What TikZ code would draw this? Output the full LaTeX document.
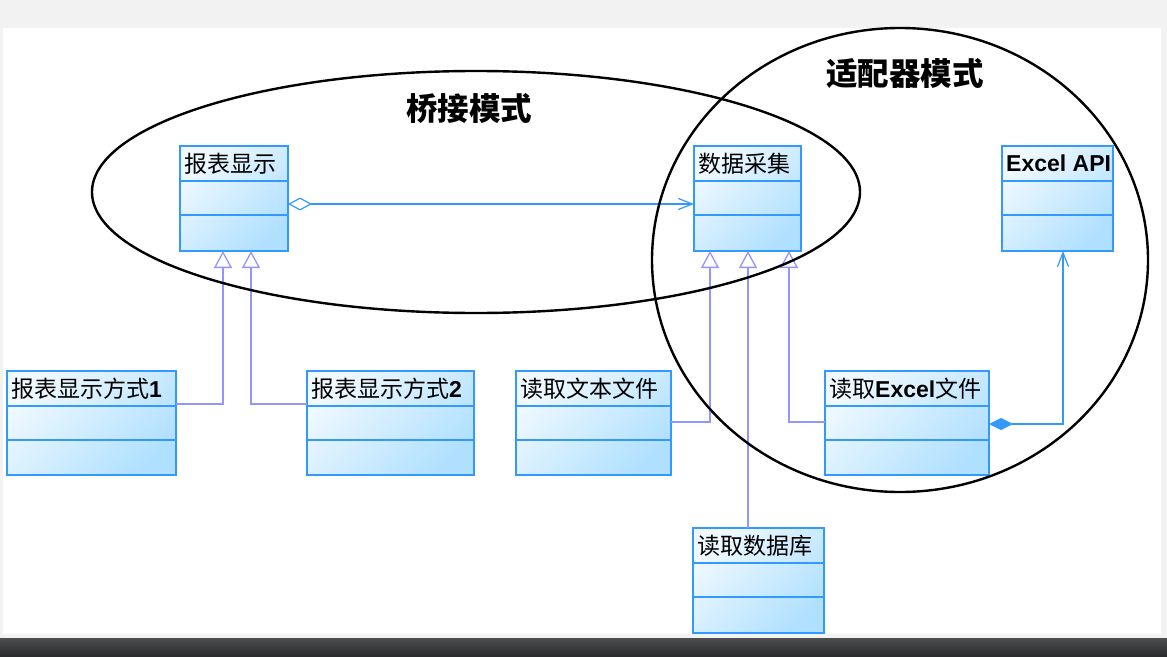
\documentclass[tikz,border=0pt]{standalone}
\usepackage{fontspec}
\setmainfont{Liberation Sans}
\newfontfamily\cjk{Noto Sans CJK SC}
\usepackage{tikz}
\usetikzlibrary{arrows.meta, calc}

\definecolor{umlblue}{HTML}{3399FF}
\definecolor{umllilac}{HTML}{9494FF}
\definecolor{boxlight}{HTML}{F0F9FF}
\definecolor{boxdark}{HTML}{B0E0FF}
\definecolor{pagegrey}{HTML}{F2F2F2}
\definecolor{bartop}{HTML}{4C4E50}
\definecolor{barbottom}{HTML}{2A2C2E}

% one class box: name, x, y, width, height, title
\newcommand{\umlbox}[6]{%
  \node[umlclass, minimum width=#4pt, minimum height=#5pt] (#1) at (#2,#3) {};
  \node[classtitle] (#1-title) at ($(#1.north west)+(4pt,-17.5pt)$) {#6};
  \draw[umlblue, line width=1.2pt] ($(#1.north west)+(0,-35pt)$) -- ($(#1.north east)+(0,-35pt)$);
  \draw[umlblue, line width=1.2pt] ($(#1.north west)+(0,-69pt)$) -- ($(#1.north east)+(0,-69pt)$);
}

\begin{document}
\begin{tikzpicture}[x=1pt, y=-1pt,
    umlclass/.style={draw=umlblue, line width=1.2pt, anchor=north west, inner sep=0pt, outer sep=0pt,
      top color=boxlight, bottom color=boxdark, shading angle=45},
    classtitle/.style={anchor=west, inner sep=0pt, font=\cjk\fontsize{23}{26}\selectfont},
    patterntitle/.style={inner sep=0pt, font=\cjk\bfseries\fontsize{31.5}{34}\selectfont},
    assoc/.style={umlblue, line width=1.2pt},
    inherit/.style={umllilac, line width=1.3pt, -{Triangle[length=17pt, width=18pt, fill=white]}}]
        % Page background
        \useasboundingbox (0,0) rectangle (1167,656);
        \fill[pagegrey] (0,0) rectangle (1167,656);
        \fill[white] (3,28) rectangle (1161,634);
        \shade[top color=bartop, bottom color=barbottom] (0,638) rectangle (1167,656);

        % Classes
        \umlbox{show}{180}{146}{108}{105}{报表显示}
        \umlbox{collect}{694}{146}{107}{105}{数据采集}
        \umlbox{api}{1002}{146}{111}{105}{{\rmfamily\bfseries Excel API}}
        \umlbox{way1}{7}{371}{169}{104}{报表显示方式{\rmfamily\bfseries 1}}
        \umlbox{way2}{307}{371}{167}{104}{报表显示方式{\rmfamily\bfseries 2}}
        \umlbox{txt}{516}{371}{155}{104}{读取文本文件}
        \umlbox{xls}{825}{371}{164}{104}{读取{\rmfamily\bfseries Excel}文件}
        \umlbox{db}{693}{528}{131}{105}{读取数据库}

        % Connectors
        \draw[assoc, {Diamond[length=24pt, width=13pt, fill=white]}-{Straight Barb[length=14pt, width=11pt]}]
            ($(show.north east)+(0,-58pt)$) -- ($(collect.north west)+(0,-58pt)$);
        \draw[inherit] ($(way1.north east)+(0,-33pt)$) -| ($(show.south west)+(43pt,0)$);
        \draw[inherit] ($(way2.north west)+(0,-33pt)$) -| ($(show.south west)+(71pt,0)$);
        \draw[inherit] ($(txt.north east)+(0,-51pt)$) -| ($(collect.south west)+(16pt,0)$);
        \draw[inherit] ($(db.north west)+(55pt,0)$) -- ($(collect.south west)+(54pt,0)$);
        \draw[inherit] ($(xls.north west)+(0,-51pt)$) -| ($(collect.south west)+(95pt,0)$);
        \draw[assoc, {Diamond[length=24pt, width=12pt]}-{Straight Barb[length=14pt, width=11pt]}]
            ($(xls.north east)+(0,-53pt)$) -| ($(api.south west)+(61pt,0)$);

        % Pattern groups
        \draw[line width=2.4pt] (476,192) ellipse [x radius=384pt, y radius=121pt];
        \draw[line width=2.4pt] (900,260) ellipse [x radius=248pt, y radius=232pt];
        \node[patterntitle] (bridge) at (469,108) {桥接模式};
        \node[patterntitle] (adapter) at (905,73) {适配器模式};
\end{tikzpicture}
\end{document}
